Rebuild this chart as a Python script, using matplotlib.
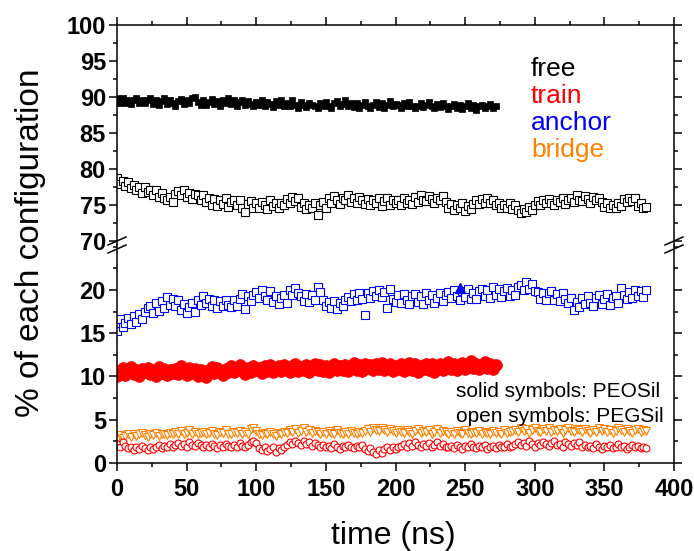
import numpy as np
import matplotlib
matplotlib.use("Agg")
import matplotlib.pyplot as plt
from matplotlib.lines import Line2D
from matplotlib.ticker import MultipleLocator

plt.rcParams["font.family"] = ["Liberation Sans", "DejaVu Sans"]

T_STEP = 2.0  # ns between stored frames

# PEOSil (solid symbols), 0-272 ns
FREE_PEO = [
    89.8, 89.2, 89.9, 89.1, 89.6, 89.0, 89.5, 89.8, 89.1, 89.6, 89.2,
    89.5, 89.9, 89.0, 89.6, 88.9, 89.4, 89.8, 89.0, 89.5, 89.1,
    88.7, 89.4, 89.7, 89.0, 89.5, 89.1, 89.8, 90.0, 89.3, 88.9,
    89.5, 88.9, 89.3, 89.7, 89.0, 89.4, 88.8, 89.6, 89.1, 89.8,
    89.0, 89.5, 88.7, 89.3, 89.6, 88.9, 89.4, 89.0, 88.7, 89.3,
    88.9, 89.5, 88.8, 89.3, 89.0, 88.6, 89.4, 88.9, 89.5, 88.8,
    89.2, 88.7, 89.5, 88.9, 88.5, 89.3, 88.9, 88.6, 89.2, 88.9,
    88.8, 88.4, 89.1, 88.7, 89.3, 88.8, 88.5, 89.1, 89.4, 88.7,
    89.0, 89.5, 88.8, 89.2, 88.6, 89.1, 88.5, 88.9, 89.3, 88.7,
    88.4, 88.9, 89.3, 88.6, 89.1, 88.5, 88.9, 89.4, 88.7, 89.0,
    88.9, 88.5, 89.2, 88.7, 89.3, 88.8, 88.4, 88.8, 89.1, 88.6,
    88.9, 89.3, 88.7, 88.4, 89.0, 88.6, 89.2, 88.7, 88.3, 88.8,
    89.0, 88.5, 88.9, 88.3, 88.8, 89.1, 88.5, 88.9, 88.2, 88.7,
    88.9, 88.4, 88.8, 89.0, 88.5, 88.7,
]
TRAIN_PEO = [
    10.0, 10.6, 11.0, 10.2, 10.7, 11.1, 10.3, 10.8, 10.1, 10.9, 10.5,
    11.0, 10.3, 10.7, 10.0, 11.1, 10.4, 10.9, 10.2, 10.8, 10.4,
    10.9, 10.3, 11.2, 10.6, 10.2, 11.0, 10.4, 10.9, 10.1, 10.7,
    10.3, 9.9, 10.8, 11.1, 10.4, 11.0, 10.6, 10.2, 10.9, 10.5,
    11.2, 10.5, 10.9, 11.3, 10.6, 10.3, 11.0, 10.5, 11.2, 10.7,
    11.0, 10.4, 11.2, 10.6, 11.3, 10.5, 10.9, 11.2, 10.6, 11.3,
    10.9, 10.5, 11.2, 11.4, 10.6, 11.1, 10.7, 11.3, 10.5, 11.0,
    11.5, 10.8, 11.3, 10.6, 11.2, 10.5, 11.0, 11.4, 10.7, 11.2,
    10.8, 11.3, 10.6, 11.1, 11.6, 10.8, 11.3, 10.6, 11.5, 11.0,
    11.3, 10.7, 11.4, 10.9, 11.6, 10.7, 11.2, 11.5, 10.6, 11.2,
    10.9, 11.4, 10.6, 11.2, 11.6, 10.8, 11.4, 10.5, 11.2, 10.9,
    11.4, 10.8, 11.5, 10.5, 11.2, 11.4, 10.7, 11.3, 11.7, 10.9,
    11.4, 10.7, 11.2, 11.6, 10.9, 11.4, 11.8, 11.0, 11.5, 10.9,
    11.3, 11.7, 11.0, 11.5, 10.9, 11.3,
]
# a single anchor point for PEOSil
ANCHOR_PEO_T = [246.0]
ANCHOR_PEO = [20.2]

# PEGSil (open symbols), 0-380 ns
FREE_PEG = [
    78.7, 77.9, 78.3, 77.6, 78.1, 77.3,
    77.8, 77.0, 77.4, 76.7, 77.5, 76.8, 77.1,
    76.3, 77.0, 76.1, 76.7, 75.9,
    75.6, 76.1, 75.4, 76.5, 76.9,
    76.4, 77.0, 76.1, 76.7, 75.8, 76.5,
    76.4, 75.7, 76.3, 75.4, 75.9,
    75.0, 75.8, 74.8, 75.6, 75.1, 75.9, 74.7, 75.4, 75.7, 74.9, 75.6, 74.6,
    74.0, 75.1, 75.5, 74.5, 75.3,
    74.6, 75.4, 75.0, 74.4, 75.6, 74.8, 75.3, 74.5, 75.2, 74.9,
    75.8, 75.3, 76.1, 75.5, 75.9,
    74.7, 75.2, 74.4, 75.0, 74.6, 75.3,
    73.6, 74.9, 75.4, 74.6,
    75.9, 75.3, 76.2, 75.6, 75.1, 76.0, 75.7, 76.3, 75.4, 75.9, 75.2, 76.1, 75.6,
    75.1, 75.8, 74.9, 75.6, 75.3, 76.0, 74.8, 75.5, 75.9, 75.0, 75.7, 75.2,
    75.6, 75.0, 75.9, 75.3, 75.7, 75.1,
    76.1, 75.4, 76.3, 75.7, 75.5, 76.2, 75.8, 75.3, 76.0, 75.6, 76.2, 75.4,
    74.6, 75.1, 74.3, 74.9, 74.5, 75.2, 74.1, 74.8, 74.4, 75.1,
    75.6, 75.1, 75.8, 75.3, 75.9, 75.2, 75.6, 75.0,
    75.2, 74.5, 75.0, 74.6, 75.3, 74.4, 74.9, 74.2,
    73.8, 74.4, 74.0, 74.7, 74.3, 75.0,
    75.5, 74.9, 75.7, 75.2, 75.8, 75.3, 74.9, 75.7, 75.4, 76.0, 75.1, 75.6,
    76.0, 75.4, 76.3, 75.7, 75.5, 76.2, 75.8, 75.3, 76.1, 75.6, 76.0, 75.4,
    74.7, 75.3, 74.5, 75.0, 74.6, 75.2, 74.8,
    75.8, 75.4, 76.0, 75.5, 75.9,
    74.8, 75.2, 74.5, 74.7,
]
ANCHOR_PEG = [
    15.3, 16.6, 15.7, 16.2, 16.8,
    16.1, 17.0, 16.3, 17.2, 16.6, 17.5, 17.9,
    18.2, 17.3, 18.5, 17.6, 18.7, 17.9,
    19.2, 18.3, 19.0, 18.1, 18.8,
    17.7, 18.4, 17.3, 18.0, 18.5, 17.5,
    18.9, 18.3, 19.3, 18.5, 19.0,
    18.2, 18.8, 17.9, 18.7, 18.1, 18.9, 18.3, 18.0, 18.8, 18.2, 19.0,
    19.5, 17.8, 19.3, 18.7, 19.4,
    19.8, 19.1, 20.0, 19.3, 18.9, 19.9,
    18.6, 19.3, 18.4, 19.1, 19.4, 18.5,
    20.0, 19.4, 20.2, 19.7,
    19.3, 18.7, 19.5, 18.6, 19.4, 18.9,
    20.4, 19.8,
    18.9, 18.1, 18.6, 17.9, 18.7, 17.8, 18.5, 18.1, 18.8,
    19.2, 18.7, 19.5, 18.9, 19.6, 19.0,
    17.1,
    19.6, 19.1, 19.9, 19.3, 20.0, 19.2, 19.8, 17.9,
    20.1, 19.0, 18.6, 19.4, 18.5, 19.5, 18.8, 18.4, 19.3,
    19.5, 18.6, 19.3, 18.4, 19.7, 18.8, 19.4, 18.5, 19.1, 19.7, 18.7, 19.4,
    19.8, 19.1, 20.0, 19.3, 18.9, 19.9, 19.2, 20.1, 19.0, 19.7, 19.0, 19.9,
    20.1, 19.3, 20.0, 19.1, 20.3, 19.4, 20.1, 19.2, 19.9, 20.2, 19.3, 20.0, 19.4, 20.4,
    20.6, 20.0, 20.9, 20.1, 20.7, 19.9,
    19.8, 19.0, 19.7, 18.8, 19.6, 19.9, 18.9, 19.5, 18.7, 19.7, 19.0,
    18.5, 19.1, 17.7, 18.6, 18.0,
    19.1, 18.4, 19.3, 18.5, 18.2, 19.1, 19.4, 18.4, 19.0, 19.5, 18.3, 19.1, 19.3, 18.5,
    20.2, 19.4, 19.0,
    19.8, 19.1, 20.0, 19.3, 19.9, 19.2, 20.0,
]
TRAIN_PEG = [
    2.2, 1.9, 2.4, 2.0, 1.7,
    1.8, 1.5, 1.9, 1.6, 2.0, 1.7, 1.5, 1.9, 1.6, 1.8, 2.1, 1.7,
    2.0, 1.8, 2.2, 1.9, 2.1,
    2.3, 2.0, 2.2, 1.9, 2.4, 2.1, 2.0, 2.3, 2.1,
    1.9, 2.1, 1.8, 2.2, 2.0, 1.7, 2.1, 1.9, 2.2, 2.0, 1.8, 2.1, 1.9, 2.3, 2.0, 1.8, 2.1,
    2.4, 2.6, 2.3,
    1.7, 1.5, 1.8, 1.4, 1.6, 1.9, 1.3, 1.7, 1.5, 1.8,
    2.1, 2.4, 2.2, 2.6, 2.3, 2.1, 2.5, 2.2, 2.4, 2.0, 2.3, 2.1,
    1.9, 2.1, 1.8, 2.0, 1.7, 2.2, 1.9, 1.6, 2.0, 1.8, 2.1, 1.9, 1.7, 2.0, 1.8, 2.1,
    1.6, 1.4, 1.7, 1.3, 1.0, 1.5, 1.2, 1.6,
    1.8, 1.5, 1.9, 1.6, 1.8, 2.0,
    2.2, 1.9, 2.3, 2.0, 2.4, 2.1, 1.8, 2.2, 2.0, 2.3, 1.9, 2.1, 2.4, 2.0, 2.2, 1.9,
    1.8, 2.0, 1.7, 2.1, 1.9, 1.6, 2.0, 1.8, 2.2, 1.9, 1.7, 2.0,
    1.8, 2.1, 1.6, 1.9, 2.0, 1.7, 2.1, 1.8, 1.9, 2.2, 1.8, 2.0,
    2.2, 2.4, 2.1, 2.3, 2.0, 2.5, 2.2, 1.9, 2.3, 2.1, 2.4, 2.2,
    2.0, 2.3, 2.5, 2.1, 2.2, 1.9, 2.4, 2.2, 2.0, 2.3, 2.1, 2.4,
    1.9, 2.1, 1.8, 2.0, 1.7, 2.2, 1.9, 1.6, 2.0, 1.8, 2.1, 1.7,
    1.9, 2.2, 1.8, 2.0, 1.6, 1.9, 2.1, 1.8, 2.0, 1.7, 1.9, 1.7,
]
BRIDGE_PEG = [
    2.8, 3.2, 2.9, 3.1, 3.3,
    3.0, 3.4, 3.1, 3.3, 3.5, 3.2, 3.0, 3.4, 3.2, 3.5, 3.1, 3.3,
    3.4, 3.2, 3.5, 3.3, 3.6,
    3.4, 3.7, 3.3, 3.5, 3.8, 3.4, 3.6, 3.3, 3.5,
    3.6, 3.3, 3.5, 3.7, 3.4, 3.2, 3.6, 3.5, 3.8, 3.4, 3.3, 3.6, 3.5, 3.7, 3.3, 3.6, 3.4,
    3.9, 4.1, 3.7,
    3.4, 3.2, 3.5, 3.3, 3.6, 3.4, 3.1, 3.5, 3.3, 3.6,
    3.5, 3.8, 3.6, 3.9, 3.5, 3.7, 4.0, 3.6, 3.8, 3.5, 3.7, 3.6,
    3.4, 3.6, 3.3, 3.7, 3.5, 3.4, 3.8, 3.5, 3.3, 3.6, 3.4, 3.7, 3.5, 3.3, 3.6, 3.5,
    3.7, 3.9, 3.6, 4.0, 3.8, 3.7, 4.1, 3.8,
    3.6, 3.9, 3.7, 3.5, 3.8, 3.6,
    3.5, 3.8, 3.6, 3.4, 3.7, 3.9, 3.5, 3.7, 3.6, 3.8, 3.4, 3.6, 3.9, 3.5, 3.7, 3.6,
    3.4, 3.6, 3.3, 3.7, 3.5, 3.4, 3.8, 3.5, 3.3, 3.6, 3.5, 3.7,
    3.4, 3.6, 3.5, 3.3, 3.7, 3.5, 3.6, 3.4, 3.8, 3.5, 3.6, 3.7,
    3.8, 3.6, 4.0, 3.7, 3.9, 3.5, 3.8, 4.1, 3.7, 3.6, 3.9, 3.7,
    4.0, 3.6, 3.8, 3.7, 3.9, 3.5, 3.8, 4.0, 3.7, 3.6, 3.9, 3.8,
    3.6, 3.9, 3.7, 3.5, 3.8, 3.6, 4.0, 3.7, 3.9, 3.6, 3.8, 3.5,
    3.7, 4.1, 3.8, 3.6, 3.9, 3.7, 3.5, 3.8, 3.9, 3.6, 3.8, 3.7,
]

ORANGE = "#FF8000"
TICK_SIZE = 17


def times(values):
    return np.arange(len(values)) * T_STEP


W_PX, H_PX = 694, 551
fig = plt.figure(figsize=(W_PX / 100, H_PX / 100), dpi=100)
left, width = 117 / W_PX, 557 / W_PX
y_break, y_top, y_bot = 245, 25, 463
ax_top = fig.add_axes([left, (H_PX - y_break) / H_PX, width, (y_break - y_top) / H_PX])
ax_bot = fig.add_axes([left, (H_PX - y_bot) / H_PX, width, (y_bot - y_break) / H_PX])

# upper panel: free fraction
ax_top.plot(times(FREE_PEG), FREE_PEG, ls="none", marker="s", ms=5.3, mfc="white",
            mec="black", mew=0.8)
ax_top.plot(times(FREE_PEO), FREE_PEO, ls="none", marker="s", ms=5, mfc="black",
            mec="black", mew=0.5)

# lower panel: anchor, train, bridge
ax_bot.plot(times(ANCHOR_PEG), ANCHOR_PEG, ls="none", marker="s", ms=5.3, mfc="white",
            mec="blue", mew=0.8)
ax_bot.plot(ANCHOR_PEO_T, ANCHOR_PEO, ls="none", marker="^", ms=6.5, mfc="blue",
            mec="blue")
ax_bot.plot(times(TRAIN_PEO), TRAIN_PEO, ls="none", marker="o", ms=8.5, mfc="red",
            mec="red", mew=0.5)
ax_bot.plot(times(BRIDGE_PEG), BRIDGE_PEG, ls="none", marker="v", ms=5.5, mfc="white",
            mec=ORANGE, mew=0.8)
ax_bot.plot(times(TRAIN_PEG), TRAIN_PEG, ls="none", marker="o", ms=5, mfc="white",
            mec="red", mew=0.8)

ax_top.set_ylim(69.4, 100)
ax_bot.set_ylim(0, 25.2)
ax_top.set_yticks([70, 75, 80, 85, 90, 95, 100])
ax_bot.set_yticks([0, 5, 10, 15, 20])

for ax in (ax_top, ax_bot):
    ax.set_xlim(0, 400)
    ax.xaxis.set_major_locator(MultipleLocator(50))
    ax.xaxis.set_minor_locator(MultipleLocator(25))
    ax.yaxis.set_minor_locator(MultipleLocator(2.5))
    for s in ax.spines.values():
        s.set_linewidth(1.1)
    ax.tick_params(which="both", direction="out", width=1.1, left=True, right=True, pad=2)
    ax.tick_params(which="major", length=6)
    ax.tick_params(which="minor", length=3)
    for lab in ax.get_yticklabels():
        lab.set_fontsize(TICK_SIZE)
        lab.set_fontweight("bold")

ax_top.spines["bottom"].set_visible(False)
ax_top.tick_params(which="both", bottom=False, top=True, labelbottom=False)
ax_bot.spines["top"].set_visible(False)
ax_bot.tick_params(which="both", top=False, bottom=True)
ax_bot.tick_params(axis="x", pad=5)
for lab in ax_bot.get_xticklabels():
    lab.set_fontsize(TICK_SIZE)
    lab.set_fontweight("bold")

# break marks on both side spines
for x_px in (117, 674):
    for yc in (241, 249):
        fig.add_artist(Line2D([(x_px - 9) / W_PX, (x_px + 9) / W_PX],
                              [(H_PX - yc - 4) / H_PX, (H_PX - yc + 4) / H_PX],
                              color="black", lw=1.1, transform=fig.transFigure))

fig.text(31 / W_PX, (H_PX - 243) / H_PX, "% of each configuration", rotation=90,
         fontsize=24, ha="center", va="center")
fig.text(393 / W_PX, (H_PX - 536) / H_PX, "time (ns)", fontsize=23,
         ha="center", va="center")

for label, color, base in [("free", "black", 76), ("train", "red", 103),
                           ("anchor", "blue", 130), ("bridge", ORANGE, 157)]:
    fig.text(531 / W_PX, (H_PX - base) / H_PX, label, color=color, fontsize=19,
             ha="left", va="baseline")

fig.text(456 / W_PX, (H_PX - 397) / H_PX, "solid symbols: PEOSil", fontsize=15,
         ha="left", va="baseline")
fig.text(456 / W_PX, (H_PX - 422) / H_PX, "open symbols: PEGSil", fontsize=15,
         ha="left", va="baseline")

fig.savefig("out.png", dpi=100)
